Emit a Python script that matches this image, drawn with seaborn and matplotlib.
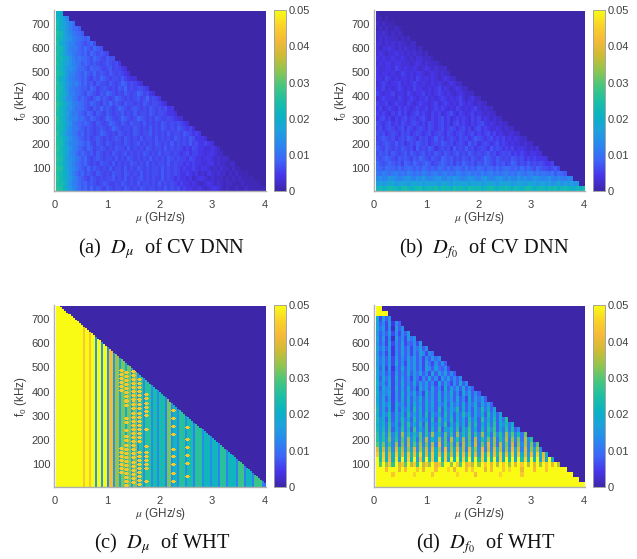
import numpy as np
import matplotlib
matplotlib.use("Agg")
import matplotlib.pyplot as plt
from matplotlib.colors import LinearSegmentedColormap
import seaborn as sns

STEP_FINE = 0.0011
STEP_COARSE = 0.002

X_TICKS = [0, 1, 2, 3, 4]
Y_TICKS = [100, 200, 300, 400, 500, 600, 700]
CBAR_TICKS = [0, 0.01, 0.02, 0.03, 0.04, 0.05]
CBAR_LABELS = ["0", "0.01", "0.02", "0.03", "0.04", "0.05"]

CAPTIONS = [
    r"(a)  $D_{\mu}$  of CV DNN",
    r"(b)  $D_{f_0}$  of CV DNN",
    r"(c)  $D_{\mu}$  of WHT",
    r"(d)  $D_{f_0}$  of WHT",
]

# cells in each row that lie under the diagonal, top row first
ROW_LEN = [2, 4, 6, 8, 9, 11, 13, 15, 17, 19, 21, 23, 24, 26, 28, 30, 32, 34,
           36, 38, 39, 41, 43, 45, 47, 49, 51, 53, 54, 56, 58, 60, 62, 64, 66, 68]

DMU_ROWS = [
    "ts",
    "usom",
    "wspnlj",
    "vsqnljih",
    "xvrnmkjih",
    "wuqonlkjihi",
    "xspnlljihghig",
    "wvrnlkkihjhgihg",
    "xuqnmkjihigihghgf",
    "wvsqnljkiihgihgfhgg",
    "xurpnlkjhihghgfghgfge",
    "wuqonmkiihgihhgfghfgfed",
    "xvsnmljihjhgighgfhgfgfed",
    "wtqnlkjihigfhgihgfggfhfedd",
    "xuqomkljhighfhggfhgfgihfgfed",
    "wvrnlkjihhgihfghgfgfhgifgfggfe",
    "xusolljihgihgfhgihgfgfhgfgihfged",
    "wuqnmkjhihgfhighgfgihgfgfghfgifgfe",
    "yvspnlkjihgihgfhgighgfhggfgfhgfggfed",
    "xusonljjihgfhgighgfgihgfghgfgfhgfgfgee",
    "wvrpmkkihgihfhgfhgfgghfgfhfggfhgfggfeed",
    "yusomllijhgihgfgihgfgihgfgihgfgfhgffgfedd",
    "xvspnkjihihgfhgfgihgfhgfhggfhfgfgfhgfgfgfed",
    "wvsomkkihghgfghgfgihgfggfhgfgfhfgfhgfgfhgfefd",
    "yuqnmkjhighgfgihgfgfhgfgfhgfgghfgfgfhfggfhgfefe",
    "xvspnlkihghfghgfgfghgfhgfgfhfggfhfgfgfhgfgfhgeeed",
    "xwsomlkjihigfhgfhgfggfhgfghfgfgfhgfgfhfgfgfhfgeefed",
    "yvsqnlkihgihfghgfgfhggfhfgfgfhgfggfhfgfgfefegfeeddedc",
    "xvspmljhihghfhgfgfhgfghfgfgfhgfgfhfggfgfefgeffeedeedcc",
    "ywsonmkjhigfghgfggfhfgfhgfgfgfhfgfgfhgfgffegfeedeedcdccc",
    "xvspnljihigfgfhggfhfgfgfhgfgfhfgfggfhfgffefefeeddeecdccbcc",
    "yxspnmkihgighgfgfhfggfhfgfhgfgfggfhfgfgfefeefedeedcdcdccbcbb",
    "xvtrnljhighgfhgfgfhggfhgfgfhfgfggfhfgfgfeefedecdcedcdccbcbcbbb",
    "yvtqomkihgfhgfgfgghfgfhfgfghfgfgffhfgfefeedecdeedcdcccbcbcbcbbbb",
    "xwupnlkihighgfghgffgfhgfgfhfggfgfhfgfgfefeededccdedcdcbccbbbcbbbbb",
    "yxtqomkjhigighgfhgfggfhgfgfhgfggfgfhfgfgefeeddedcdeedcbcbbcbbcbbbbbb",
]

DF0_ROWS = [
    "ba",
    "bbab",
    "cbcbbb",
    "bcbcbbcb",
    "ccdcbcbcb",
    "cdcdcccbcbc",
    "ddcdcdcdccbcc",
    "dcddedcdcdcccbc",
    "dedcddeddcdcdccbc",
    "ededdeddedcdcddcccb",
    "dedeedeedddcdedcdcccb",
    "eddeedfededdedcdedcdccc",
    "edeededdfededeedcdedcdcc",
    "eedfededeededfedededcdedcc",
    "defedeefdedefededdededcdedcc",
    "eefdedefededfeeddedefdedcdedcc",
    "fedeefdeedfedeefdedefededcdedccc",
    "defeeedfedefedeefdedefededefdcdecc",
    "feefdefeedfedefeedefdefededfededcdcc",
    "efdefedfefedefeefdefefededfededefdcdcc",
    "fefedfegefdefgefedfefdefgedfedefdedcdcc",
    "efgefdfefgeffefgedfefgefdefefedfefdedcdcc",
    "gfefgefegfefgfefegfefgefdfgefedfefgededcdcc",
    "fgefgfefgegfefgfegfefgefgfefgefdfgefeddedcdcc",
    "gfgefgfegfgefgfefgefgfegfefgfefgefefgefdedcddcc",
    "fghgfgefgfhgfegfgefhfgefgfegfgefhgfefgefefdededcc",
    "gfghgfhfgefgfhgfgefgfhgfgefgfehfgefgfefgefededdcdcc",
    "hgfhgfgfhgfgehfgfhgefgfgehfgfhfgefgfehfgfefefdeedcdcd",
    "ghghfhgfghfhgfghfgfhgfhgfghfgfhgfgfghfgefgfgefefedeeddc",
    "hghihgfhghgfhgihgfhgfihghfgfhgfhgfgihgfhgfgfhgfgefefeeed",
    "ihghihghfihgihghihfghihghfhgihghfhgihgfhghfgihfgfhfgfgfeef",
    "jihjiihjhijihihjihihjihjhijihjhihjihiihjhijihihjhihgihggfghf",
    "kjlkjkljkjlkjkjlkjkljkljkjlkjkljkjljkljkjkljkjlkjkljkjkjikhjih",
    "mnlmonmlmnomlnmomlmnomlnmonmlmonmlnomlmnomlnmlomnlmonmlmnlkmlkml",
    "pqoprqopqporqpqorpqpoqrpoqprpqorpqoprqpoqprqopqpoqrpopqopnoqnpopno",
    "uvtuwvutvwutuvwtuvuwtvuvtwuvutwvuvtuvwutvuwutvutvwutuvutvuwtuvutsutv",
]

WHT_DF0_ROWS = [
    "zz",
    "zzzz",
    "kdieha",
    "jehdiche",
    "jfidhbieh",
    "ieheidhdhei",
    "jeidhbiehdifh",
    "iehdidheidfehdi",
    "jfieicheiehdhfieh",
    "iehdicheiehdheihdhf",
    "jfieidieheifiehdheifh",
    "ifieidjehdifiehdifdhehe",
    "kejdichejeifiehdiheifehd",
    "jfiehdiehejeifiehdjeifiehe",
    "kejfidjeiehdifdhejehdifieheh",
    "lfiejdiejehejeifiehdjeifdhejeh",
    "kejgidjeiekehdjfiejehdkeifiejehe",
    "lfigjdiekeifjehdkfiejeifkehdjfiehe",
    "kfjeidiejekeifkejfiekejfiejehdkeifie",
    "lfjgkdkfiejekfiekfjeifkejfiekeifkejfie",
    "mfjekdkejfkemfjekfiemekfjgmekeiekfmfkej",
    "lfkgmejfkemfjfkemekfjemfkejfmgkejfkemfkej",
    "mhkemekfmfkemfjfkemenfkfmekfjemfkenfkfmekfn",
    "lhlfnfkemfnfkfmenekfmfnekfmfkenfmekfmfnekhmfk",
    "mhmfoekfnfmeofkfnemfoekhmfnemhofkemfnhoekfnfmeh",
    "nhngpgmfrgngmhpfngrhmfpgnfrgmhpfngrgmfphngrhpgmfq",
    "ninhqgnfpgrhnfpgsgmhrgpfshngrgpfsgnhqgrfnhsgrgqfshn",
    "pjqhogrfqgshphrgqgsgugphqgrfshpgtgqhugrfshqgtfrhsgqfp",
    "uktirhulshrjuhsjthuksgvhrjuisgujrhvgthujsgrhvjtguhrjshq",
    "wmwkukwmukwmvlxkukwlvkwmtjxkvlwkuiwlxjvmwkvlxjwkuivjxkuj",
    "zmxkvkyjzkxlzjvkzlwkzkxjzlzkxmzjzmxkzlzjxkzlzjzmxkzlzjvkzj",
    "zpzrwnztwpzswnzswrzuwpzzrzwpzuwszrzwzuzszwzrzuzwzszuzrzwzuzs",
    "zzzvzzzuzvzzzwzuzzzvzzzxzuzzzvzwzzzuzvzzzwzxzzzuzzzvzzzwzzzzzz",
    "zzzzzwzzzzzzxzzzzzwzzzzzzzxzzzzzvzzzzzzzxzzzzzzwzzzzzzzzzzzzzzzz",
    "zzzzzzzzzzzzzzzzzzzzzzzzzzzzzzzzzzzzzzzzzzzzzzzzzzzzzzzzzzzzzzzzzz",
    "zzzzzzzzzzzzzzzzzzzzzzzzzzzzzzzzzzzzzzzzzzzzzzzzzzzzzzzzzzzzzzzzzzzz",
]

# panel c is made of vertical stripes: one level per column, and the f0 where each ends
WHT_DMU_COLUMNS = ("zzzzzzzzzzzzzwzzwzz" "izzizzhvvirrjqqkqqiqqhnnhnnnhmmhmmmgqqhllhnnnhmmmg"
                   "nnnhlllhlllgnnngllllgoooglllgoooogf")
WHT_DMU_TOPS = [755, 755, 749, 741, 734, 727, 720, 713, 705, 698, 691, 684, 677, 669, 662,
                655, 648, 641, 633, 626, 619, 612, 605, 597, 590, 583, 576, 569, 561, 554,
                547, 540, 533, 525, 518, 511, 504, 497, 489, 482, 475, 468, 461, 453, 446,
                439, 432, 425, 417, 410, 403, 396, 389, 381, 374, 367, 360, 353, 345, 338,
                331, 324, 317, 309, 302, 295, 288, 281, 273, 266, 259, 252, 245, 237, 230,
                223, 216, 209, 201, 194, 187, 180, 173, 165, 158, 151, 144, 137, 129, 122,
                115, 108, 101, 93, 86, 79, 72, 65, 57, 50, 43, 36, 29, 21, 14]

# orange spots on the stripes: mu of the stripe -> f0 of each spot
WHT_SPOT_MU = [1.27, 1.38, 1.50, 1.62, 1.75, 2.27, 2.55]
WHT_SPOT_F0 = [
    [487, 470, 453, 436, 419, 402, 167, 150, 133, 116, 99, 82, 65],
    [480, 463, 446, 429, 412, 395, 378, 361, 344, 292, 275, 242, 214, 197, 180, 163, 146,
     129, 112, 95, 78, 61, 44, 27, 13],
    [483, 466, 449, 432, 415, 398, 381, 364, 347, 330, 313, 296, 279, 262, 245, 228, 211,
     194, 177, 160, 143, 126, 109, 92, 75, 58, 41, 24],
    [449, 432, 415, 398, 381, 364, 347, 330, 313, 296, 279, 262, 245, 228, 211, 194, 150,
     133, 116, 99, 82, 65, 48, 31, 14],
    [387, 370, 353, 336, 319, 302, 245, 172, 150, 133, 116, 99, 82, 28],
    [325, 292, 258, 223, 163, 132, 97, 62, 28],
    [254, 201, 171, 136, 101, 48],
]
SPOT_LEVEL = "w"

PARULA = ["#3e26a8", "#4734e8", "#3f63f8", "#2a85f0", "#1ea0de", "#0bb2c4", "#1cbfa4",
          "#46c67e", "#8fc551", "#cdbb35", "#f5b938", "#fad22a", "#f9fb15"]

MU_START = 0.04
MU_END = 4.03
F0_TOP = 755
F0_BOTTOM = 5
XLIM = (0, 4.03)
YLIM = (4.4, 757)


def letters_to_values(rows, step):
    out = np.zeros((len(ROW_LEN), ROW_LEN[-1]))
    for r, row in enumerate(rows):
        n = ROW_LEN[r]
        row = (row + row[-1] * n)[:n]
        out[r, :n] = [(ord(c) - ord("a")) * step for c in row]
    return out


def wht_dmu_matrix():
    # one pixel wide and tall, so that the spots can be round
    rows = 180
    cols = len(WHT_DMU_COLUMNS) * 2
    out = np.zeros((rows, cols))
    df = (F0_TOP - F0_BOTTOM) / rows
    dmu = (MU_END - MU_START) / cols
    centers = F0_TOP - df * (np.arange(rows) + 0.5)
    for c in range(cols):
        level = (ord(WHT_DMU_COLUMNS[c // 2]) - ord("a")) * STEP_COARSE
        out[centers <= WHT_DMU_TOPS[c // 2], c] = level
    spot = (ord(SPOT_LEVEL) - ord("a")) * STEP_COARSE
    for mu, spots in zip(WHT_SPOT_MU, WHT_SPOT_F0):
        c = int((mu - MU_START) / dmu)
        for f in spots:
            r = int((F0_TOP - f) / df)
            out[max(r - 1, 0):r + 2, c - 1:c + 2] = spot
            out[r, c - 2:c + 3] = spot
    return out


def draw_panel(fig, matrix, box, cbar_box, caption, cap_xy, cmap):
    w, h = fig.get_size_inches() * fig.dpi
    ax = fig.add_axes([box[0] / w, 1 - box[3] / h, (box[2] - box[0]) / w, (box[3] - box[1]) / h])
    cax = fig.add_axes([cbar_box[0] / w, 1 - box[3] / h, (cbar_box[1] - cbar_box[0]) / w,
                        (box[3] - box[1]) / h])
    sns.heatmap(matrix, vmin=0, vmax=0.05, cmap=cmap, ax=ax, cbar_ax=cax,
                xticklabels=False, yticklabels=False, cbar_kws={"ticks": CBAR_TICKS})
    rows, cols = matrix.shape
    dmu = (MU_END - MU_START) / cols
    df = (F0_TOP - F0_BOTTOM) / rows
    ax.set_xlim((XLIM[0] - MU_START) / dmu, (XLIM[1] - MU_START) / dmu)
    ax.set_ylim((F0_TOP - YLIM[0]) / df, (F0_TOP - YLIM[1]) / df)
    ax.set_xticks([(m - MU_START) / dmu for m in X_TICKS])
    ax.set_xticklabels(X_TICKS)
    ax.set_yticks([(F0_TOP - f) / df for f in Y_TICKS])
    ax.set_yticklabels(Y_TICKS, rotation=0)
    ax.tick_params(length=2, width=0.5, direction="in", color="#808080", labelcolor="#404040",
                   labelsize=8, pad=3)
    ax.tick_params(axis="x", pad=6)
    ax.set_xlabel(r"$\mu$ (GHz/s)", fontsize=8.4, color="#404040", labelpad=0)
    ax.set_ylabel(r"$\mathregular{f_0}$ (kHz)", fontsize=8.4, color="#404040", labelpad=2)
    for side in ["left", "bottom"]:
        ax.spines[side].set_visible(True)
        ax.spines[side].set_color("#b0b0b0")
        ax.spines[side].set_linewidth(1)
    cax.set_yticklabels(CBAR_LABELS)
    cax.tick_params(length=0, labelcolor="#404040", labelsize=8, pad=2)
    for spine in cax.spines.values():
        spine.set_visible(True)
        spine.set_color("#a0a0a0")
        spine.set_linewidth(0.5)
    fig.text(cap_xy[0] / w, 1 - cap_xy[1] / h, caption, ha="center", va="center",
             family="Liberation Serif", fontsize=14.7, color="#111111")


sns.set_theme(style="white")
plt.rcParams["font.family"] = ["Liberation Sans", "DejaVu Sans"]
plt.rcParams["mathtext.fontset"] = "stix"

parula = LinearSegmentedColormap.from_list("parula", PARULA)

matrices = [
    letters_to_values(DMU_ROWS, STEP_FINE),
    letters_to_values(DF0_ROWS, STEP_FINE),
    wht_dmu_matrix(),
    letters_to_values(WHT_DF0_ROWS, STEP_COARSE),
]
boxes = [(54.3, 10.3, 266, 191.3), (374, 10.3, 585, 191.3),
         (54.3, 305.3, 266, 487.3), (374, 305.3, 585, 487.3)]
cbar_boxes = [(274, 285.7), (592.7, 604.7), (274, 285.7), (592.7, 604.7)]
cap_positions = [(162, 249), (484, 249), (162, 544), (486, 544)]

fig = plt.figure(figsize=(6.37, 5.59), dpi=100)
for i in range(4):
    draw_panel(fig, matrices[i], boxes[i], cbar_boxes[i], CAPTIONS[i], cap_positions[i], parula)

fig.savefig("out.png", dpi=100)
